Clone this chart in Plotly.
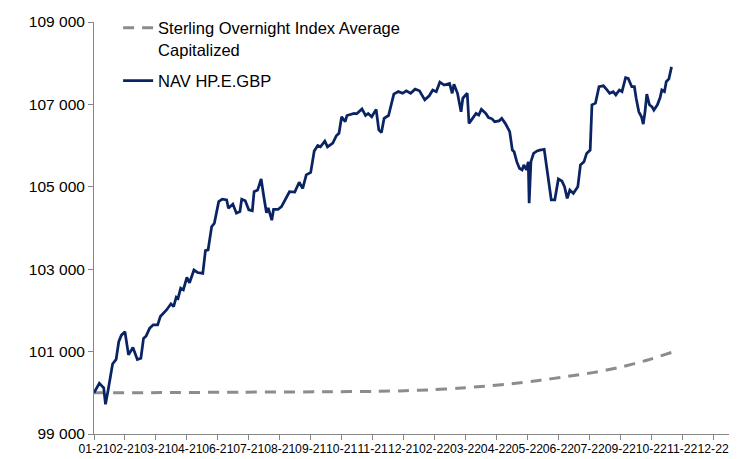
import pandas as pd
import plotly.graph_objects as go

# ---------------- data ----------------
launch_date = "2021-01-14"
tick_step_days = 35
tick_labels = ["01-21", "02-21", "03-21", "04-21", "06-21", "07-21", "08-21",
               "09-21", "10-21", "11-21", "12-21", "02-22", "03-22", "04-22",
               "05-22", "06-22", "07-22", "09-22", "10-22", "11-22", "12-22"]

# NAV of the share class, days since launch
nav_days = [0, 6, 11, 13, 16, 21, 25, 28, 31, 35,
            39, 44, 49, 53, 56, 59, 63, 67, 72, 75,
            82, 87, 90, 93, 95, 98, 101, 105, 108, 113,
            117, 123, 126, 129, 133, 136, 141, 145, 150, 152,
            157, 161, 165, 167, 171, 175, 179, 181, 185, 189,
            192, 195, 197, 201, 203, 208, 212, 218, 221, 227,
            232, 236, 240, 245, 249, 253, 256, 261, 264, 270,
            274, 277, 280, 284, 286, 294, 297, 303, 307, 310,
            314, 319, 322, 325, 328, 333, 335, 339, 344, 349,
            353, 358, 363, 368, 374, 379, 383, 387, 391, 396,
            402, 405, 407, 411, 415, 417, 422, 424, 428, 432,
            435, 438, 443, 446, 450, 453, 458, 461, 465, 470,
            473, 475, 478, 481, 484, 486, 489, 491, 492, 494,
            497, 501, 504, 509, 512, 515, 517, 521, 525, 529,
            532, 535, 538, 542, 545, 547, 550, 554, 557, 561,
            563, 567, 571, 576, 580, 583, 587, 590, 594, 597,
            601, 604, 608, 611, 613, 616, 619, 621, 623, 625,
            628, 631, 633, 637, 640, 642, 645, 647, 650, 653]
nav_values = [100000, 100230, 100120, 99720, 100070, 100700, 100810, 101240, 101400, 101480,
              100920, 101100, 100810, 100840, 101320, 101380, 101570, 101650, 101650, 101850,
              102010, 102160, 102090, 102320, 102290, 102540, 102500, 102800, 102670, 102980,
              102920, 102900, 103450, 103470, 104030, 104110, 104640, 104700, 104680, 104480,
              104580, 104360, 104400, 104700, 104660, 104440, 104420, 104880, 104920, 105190,
              104760, 104370, 104490, 104190, 104450, 104450, 104520, 104760, 104880, 104870,
              105110, 104960, 105290, 105350, 105870, 106000, 105970, 106110, 105970, 106060,
              106240, 106300, 106700, 106580, 106730, 106780, 106770, 106890, 106730, 106780,
              106700, 106880, 106380, 106320, 106660, 106730, 106910, 107250, 107310, 107270,
              107330, 107270, 107370, 107330, 107110, 107210, 107350, 107310, 107540, 107470,
              107510, 107270, 107490, 107270, 106820, 107150, 107270, 106540, 106660, 106780,
              106740, 106880, 106780, 106680, 106650, 106580, 106600, 106660, 106540, 106340,
              105890, 105850, 105610, 105450, 105410, 105530, 105410, 105610, 104600, 105610,
              105810, 105870, 105890, 105910, 105450, 104920, 104680, 104680, 105190, 105140,
              105000, 104720, 104920, 104840, 104920, 105000, 105530, 105610, 105810, 105890,
              106990, 107030, 107430, 107450, 107350, 107270, 107310, 107230, 107350, 107310,
              107650, 107630, 107430, 107430, 107150, 106820, 106700, 106520, 106820, 107250,
              106990, 106940, 106860, 106990, 107160, 107350, 107310, 107550, 107620, 107910]

# Sterling Overnight Index Average, capitalized
sonia_dates = ["2021-01-14", "2021-04-01", "2021-07-01", "2021-10-01", "2021-12-01",
               "2022-01-01", "2022-02-01", "2022-03-01", "2022-04-01", "2022-05-01",
               "2022-06-01", "2022-07-01", "2022-08-01", "2022-09-01", "2022-10-01",
               "2022-10-29"]
sonia_values = [100000, 100005, 100015, 100025, 100035,
                100050, 100075, 100110, 100160, 100220,
                100300, 100390, 100490, 100620, 100790,
                100980]

# ---------------- figure ----------------
start = pd.Timestamp(launch_date)
nav_dates = [start + pd.Timedelta(days=d) for d in nav_days]
tick_vals = [start + pd.Timedelta(days=tick_step_days * k) for k in range(len(tick_labels))]
x_end = start + pd.Timedelta(days=727)

axis_col = "#868686"
font_family = "Liberation Sans, Arial, sans-serif"

fig = go.Figure()
fig.add_trace(go.Scatter(
    x=sonia_dates, y=sonia_values, mode="lines",
    name="Sterling Overnight Index Average<br>Capitalized",
    line=dict(color="#8c8c8c", width=3, dash="11px,8px", shape="spline", smoothing=0.6),
    legendgroup="a",
))
fig.add_trace(go.Scatter(
    x=nav_dates, y=nav_values, mode="lines",
    name="NAV HP.E.GBP",
    line=dict(color="#0a2463", width=2.75),
    legendgroup="b",
))

# the page body adds an 8px offset; the figure is sized to fill the rest of the window
fig.update_layout(
    width=729, height=451,
    margin=dict(l=86, r=0, t=14, b=25, autoexpand=False),
    paper_bgcolor="white", plot_bgcolor="white",
    separators=". ",
    font=dict(family=font_family, color="#000000"),
    showlegend=True,
    legend=dict(
        x=0.0375, y=1.028, xanchor="left", yanchor="top",
        font=dict(size=16.5, family=font_family, color="#000000"),
        bgcolor="rgba(0,0,0,0)", valign="top",
        tracegroupgap=7,
    ),
    xaxis=dict(
        type="date", range=[start, x_end], automargin=False,
        tickmode="array", tickvals=tick_vals, ticktext=tick_labels,
        showline=True, linecolor=axis_col, linewidth=1,
        ticks="outside", ticklen=5, tickcolor=axis_col, tickwidth=1,
        showgrid=False, zeroline=False,
        tickfont=dict(size=12.2, family=font_family, color="#000000"),
        tickangle=0, ticklabelstandoff=-2, ticklabeloverflow="allow",
    ),
    yaxis=dict(
        range=[99000, 109000], dtick=2000, tick0=99000, automargin=False,
        tickformat=",d",
        showline=True, linecolor=axis_col, linewidth=1,
        ticks="outside", ticklen=5, tickcolor=axis_col, tickwidth=1,
        showgrid=False, zeroline=False,
        tickfont=dict(size=15.5, family=font_family, color="#000000"),
    ),
)

fig.write_html("out.html")
